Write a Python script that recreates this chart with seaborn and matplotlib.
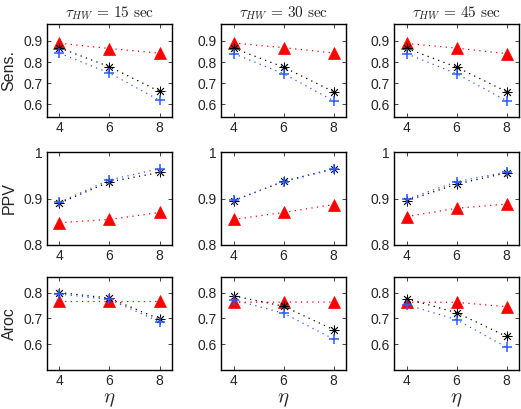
"""Sensitivity / PPV / Aroc vs eta for three tau_HW windows."""

import matplotlib
matplotlib.use("Agg")
import matplotlib.pyplot as plt
import pandas as pd
import seaborn as sns

eta = [4, 6, 8]
tau_hw = [15, 30, 45]
metrics = ["Sens.", "PPV", "Aroc"]

# one row per tau_HW column (15, 30, 45 sec)
sens_red = [[0.889, 0.864, 0.842], [0.890, 0.868, 0.843], [0.888, 0.866, 0.840]]
sens_black = [[0.867, 0.778, 0.661], [0.866, 0.776, 0.660], [0.865, 0.776, 0.660]]
sens_blue = [[0.842, 0.748, 0.619], [0.840, 0.745, 0.617], [0.840, 0.745, 0.617]]

ppv_red = [[0.848, 0.855, 0.870], [0.855, 0.870, 0.887], [0.861, 0.879, 0.888]]
ppv_black = [[0.890, 0.936, 0.956], [0.895, 0.937, 0.964], [0.895, 0.931, 0.955]]
ppv_blue = [[0.892, 0.940, 0.964], [0.896, 0.936, 0.963], [0.898, 0.936, 0.957]]

aroc_red = [[0.766, 0.766, 0.766], [0.762, 0.763, 0.763], [0.762, 0.762, 0.745]]
aroc_black = [[0.800, 0.778, 0.697], [0.787, 0.747, 0.656], [0.776, 0.722, 0.630]]
aroc_blue = [[0.794, 0.773, 0.687], [0.772, 0.720, 0.620], [0.753, 0.695, 0.588]]

ylims = {"Sens.": (0.54, 0.98), "PPV": (0.8, 1.0), "Aroc": (0.5, 0.86)}
yticks = {"Sens.": [0.6, 0.7, 0.8, 0.9], "PPV": [0.8, 0.9, 1.0], "Aroc": [0.6, 0.7, 0.8]}
yfmt = {"Sens.": "{:.1f}", "PPV": "{:g}", "Aroc": "{:.1f}"}

series = {
    "Sens.": [sens_red, sens_black, sens_blue],
    "PPV": [ppv_red, ppv_black, ppv_blue],
    "Aroc": [aroc_red, aroc_black, aroc_blue],
}

styles = [
    dict(color="#ff0000", marker="^", markersize=8, markeredgewidth=0.5),
    dict(color="#000000", marker=(8, 2, 0), markersize=7, markeredgewidth=0.6),
    dict(color="#2a5cff", marker="+", markersize=7.5, markeredgewidth=1.1),
]

sns.set_style("white")
plt.rcParams["font.family"] = ["Liberation Sans", "DejaVu Sans"]
plt.rcParams["mathtext.fontset"] = "cm"

fig = plt.figure(figsize=(5.21, 4.09), dpi=100)

W, H = 521.0, 409.0
col_left = [47, 221, 394]
row_top = [24, 152, 277]
ax_w, ax_h = 125, 93

for r, metric in enumerate(metrics):
    for c, tau in enumerate(tau_hw):
        ax = fig.add_axes([col_left[c] / W, 1 - (row_top[r] + ax_h) / H, ax_w / W, ax_h / H])
        for vals, st in zip(series[metric], styles):
            df = pd.DataFrame({"eta": eta, "val": vals[c]})
            sns.lineplot(
                data=df, x="eta", y="val", ax=ax, linestyle=(0, (1, 3.5)), linewidth=0.9,
                markeredgecolor=st["color"], **st,
            )
        ax.set_xlim(3.5, 8.5)
        ax.set_ylim(*ylims[metric])
        ax.set_xticks(eta)
        ax.set_yticks(yticks[metric])
        ax.set_yticklabels([yfmt[metric].format(v) for v in yticks[metric]])
        ax.tick_params(direction="in", length=3, width=0.6, labelsize=10, pad=3,
                       top=True, right=True, bottom=True, left=True)
        for sp in ax.spines.values():
            sp.set_linewidth(1.0)
            sp.set_color("black")
        ax.set_xlabel(r"$\eta$" if r == 2 else "", fontsize=15, labelpad=1)
        ax.set_ylabel(metric if c == 0 else "", fontsize=11.5, labelpad=5)
        if r == 0:
            ax.set_title(r"$\tau_{HW}\,=\,%d\ \mathrm{sec}$" % tau, fontsize=11, pad=5)

fig.savefig("out.png", dpi=100)
